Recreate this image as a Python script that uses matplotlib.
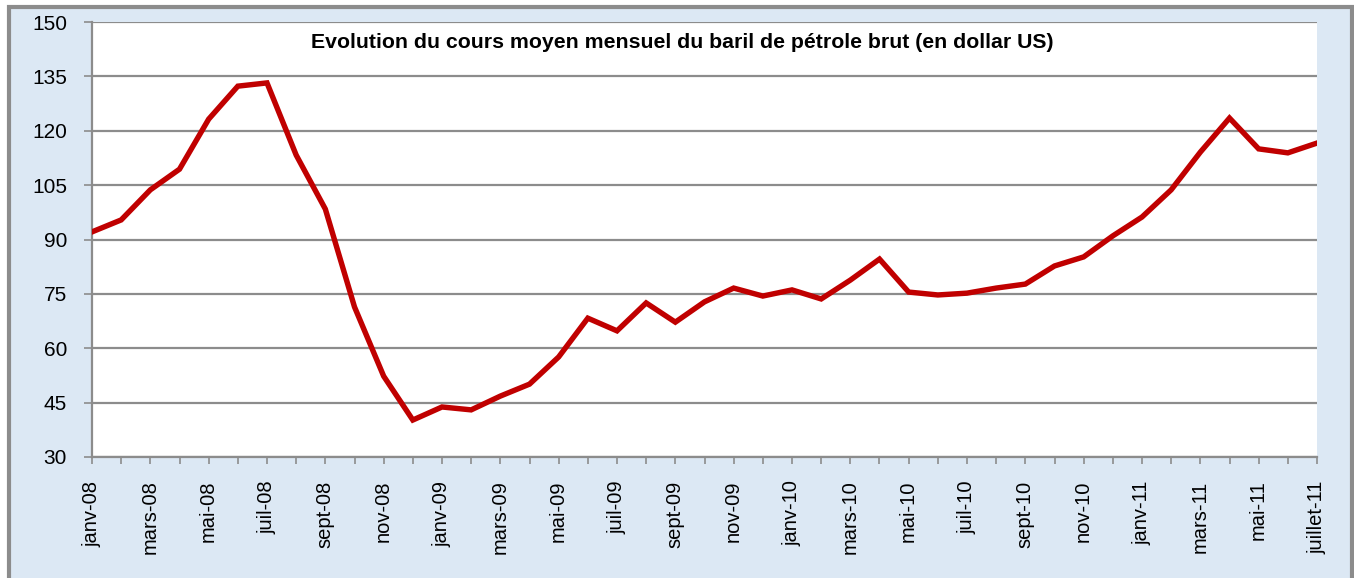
import matplotlib
matplotlib.use("Agg")
import matplotlib.pyplot as plt
from matplotlib.patches import Rectangle
from matplotlib.ticker import MultipleLocator

plt.rcParams['font.family'] = ['Liberation Sans', 'DejaVu Sans']

months = ["janv-08", "févr-08", "mars-08", "avr-08", "mai-08", "juin-08", "juil-08", "août-08",
          "sept-08", "oct-08", "nov-08", "déc-08",
          "janv-09", "févr-09", "mars-09", "avr-09", "mai-09", "juin-09", "juil-09", "août-09",
          "sept-09", "oct-09", "nov-09", "déc-09",
          "janv-10", "févr-10", "mars-10", "avr-10", "mai-10", "juin-10", "juil-10", "août-10",
          "sept-10", "oct-10", "nov-10", "déc-10",
          "janv-11", "févr-11", "mars-11", "avr-11", "mai-11", "juin-11", "juillet-11"]
prices = [92.1, 95.4, 103.7, 109.4, 123.2, 132.3, 133.2, 113.3,
          98.4, 71.4, 52.3, 40.2,
          43.8, 43.0, 46.8, 50.1, 57.6, 68.3, 64.8, 72.5,
          67.2, 72.8, 76.6, 74.4,
          76.1, 73.6, 78.8, 84.6, 75.5, 74.7, 75.2, 76.6,
          77.7, 82.7, 85.2, 91.0,
          96.2, 103.7, 114.1, 123.5, 115.0, 113.9, 116.6]
yticks = [30, 45, 60, 75, 90, 105, 120, 135, 150]
title = "Evolution du cours moyen mensuel du baril de pétrole brut (en dollar US)"

W, H = 1354, 578
fig = plt.figure(figsize=(W / 100, H / 100), dpi=100)
fig.patch.set_facecolor('white')

# background panel with gray frame
bg = Rectangle((9 / W, -10 / H), (W - 11) / W, (H + 10 - 7) / H, transform=fig.transFigure,
               facecolor='#dce8f4', edgecolor='#8c8c8c', linewidth=3, zorder=-10)
fig.patches.append(bg)

ax = fig.add_axes([92 / W, (H - 457) / H, (1317 - 92) / W, (457 - 22) / H])
ax.set_zorder(1)
ax.set_facecolor('white')

x = list(range(len(months)))
ax.plot(x, prices, color='#c00000', linewidth=3.9, solid_joinstyle='miter', zorder=3)

ax.set_xlim(0, len(months) - 1)
ax.set_ylim(30, 150)
ax.set_yticks(yticks)
ax.set_yticklabels([str(v) for v in yticks], fontsize=15)
ax.yaxis.grid(True, color='#8c8c8c', linewidth=1.6)
ax.set_axisbelow(True)

major = list(range(0, len(months), 2))
ax.set_xticks(major)
ax.set_xticklabels([months[i] for i in major], rotation=90, fontsize=14.5)
ax.xaxis.set_minor_locator(MultipleLocator(1))

for s in ['top', 'right']:
    ax.spines[s].set_visible(False)
for s in ['left', 'bottom']:
    ax.spines[s].set_color('#8c8c8c')
    ax.spines[s].set_linewidth(1.6)

ax.tick_params(axis='y', direction='out', length=6, width=1.2, color='#8c8c8c', pad=12)
ax.tick_params(axis='x', which='both', direction='out', length=5, width=1.2,
               color='#8c8c8c', pad=12)

ax.text((682 - 92) / 1225, (457 - 48) / 435, title, transform=ax.transAxes,
        ha='center', va='baseline', fontsize=15.3, fontweight='bold')

fig.savefig('out.png', dpi=100)
